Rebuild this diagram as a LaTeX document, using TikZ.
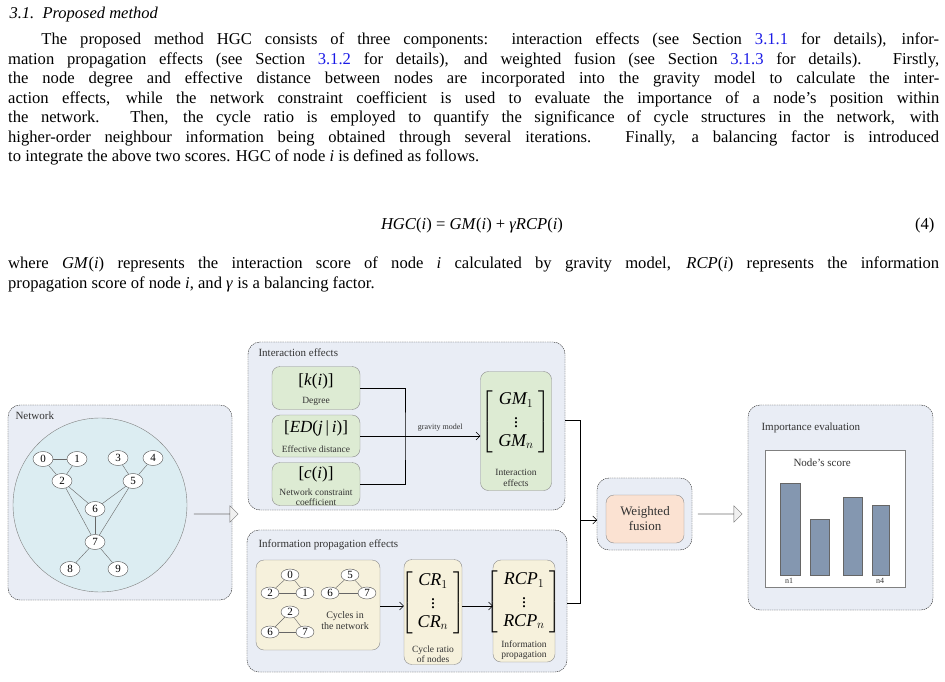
\documentclass[tikz,border=0pt]{standalone}
\usepackage{fontspec}
\setmainfont{Liberation Serif}
\usepackage{amsmath}
\usetikzlibrary{shapes.geometric,shapes.arrows,arrows.meta}
\definecolor{panel}{HTML}{E9EDF5}
\definecolor{netfill}{HTML}{DCEDF2}
\definecolor{grn}{HTML}{DDEBD3}
\definecolor{tan}{HTML}{F6F1DC}
\definecolor{peach}{HTML}{FBE2D2}
\definecolor{bar}{HTML}{8497B0}
\definecolor{lnk}{HTML}{1A1AE6}
\newcommand{\colvec}[2]{$\left[\begin{array}{c}\textit{#1}_{1}\\[1pt] \vdots\\[1pt] \textit{#1}_{#2}\end{array}\right]$}
\tikzset{
  panel/.style={draw=black!85,dash pattern=on 1.5pt off 0.8pt,fill=panel,rounded corners=12pt},
  vtx/.style={ellipse,draw=black!70,fill=white,inner sep=0.5pt,minimum width=20pt,minimum height=15pt,font=\fontsize{11}{11}\selectfont},
  ed/.style={draw=black!60},
  box/.style={draw=black!45,rounded corners=8pt},
  lbl/.style={anchor=west,font=\fontsize{11}{12}\selectfont,text=black!80},
  small/.style={font=\fontsize{9.5}{10.5}\selectfont,text=black!80,align=center},
  mat/.style={font=\fontsize{18}{18}\selectfont},
  fat/.style={single arrow,draw=black!55,fill=black!6,minimum height=44pt,minimum width=16pt,single arrow head extend=8pt,inner sep=0pt},
  bar/.style={draw=black!60,fill=bar}
}
\begin{document}
\begin{tikzpicture}[x=1pt,y=-1pt]
\useasboundingbox (0,0) rectangle (945,682);
		%Text
		\node[anchor=west,font=\fontsize{16.5}{19}\selectfont\itshape] (sec) at (6,15) {3.1.\ \ Proposed method};
		\node[anchor=north west,text width=931pt,align=justify,inner sep=0pt,font=\fontsize{16.6}{19.5}\selectfont] (par) at (8,33) {\hspace*{2em}The proposed method HGC consists of three components: interaction effects (see Section \textcolor{lnk}{3.1.1} for details), infor-\linebreak mation propagation effects (see Section \textcolor{lnk}{3.1.2} for details), and weighted fusion (see Section \textcolor{lnk}{3.1.3} for details). Firstly,\linebreak the node degree and effective distance between nodes are incorporated into the gravity model to calculate the inter-\linebreak action effects, while the network constraint coefficient is used to evaluate the importance of a node's position within\linebreak the network. Then, the cycle ratio is employed to quantify the significance of cycle structures in the network, with\linebreak higher-order neighbour information being obtained through several iterations. Finally, a balancing factor is introduced\linebreak to integrate the above two scores. HGC of node \textit{i} is defined as follows.\par};
		\node[font=\fontsize{16.6}{19}\selectfont] (eq) at (472,226) {\textit{HGC}(\textit{i}) = \textit{GM}(\textit{i}) + \textit{γRCP}(\textit{i})};
		\node[anchor=east,font=\fontsize{16.6}{19}\selectfont] (eqn) at (938,226) {(4)};
		\node[anchor=north west,text width=931pt,align=justify,inner sep=0pt,font=\fontsize{16.6}{19.5}\selectfont] (par2) at (8,257) {where \textit{GM}(\textit{i}) represents the interaction score of node \textit{i} calculated by gravity model, \textit{RCP}(\textit{i}) represents the information\linebreak propagation score of node \textit{i}, and \textit{γ} is a balancing factor.\par};
		%Network
		\draw[panel] (8,405) rectangle (232,600);
		\node[lbl] at (12,416) {Network};
		\draw[black!50,fill=netfill] (100,505) circle (87);
		\foreach \n/\x/\y in {0/43/459,1/77/459,3/118/458,4/153/458,2/62/481,5/133/481,6/95/509,7/95/542,8/70/569,9/118/569}
			\node[vtx] (v\n) at (\x,\y) {\n};
		\foreach \a/\b in {0/1,0/2,1/2,3/5,4/5,2/6,2/7,5/6,5/7,6/7,7/8,7/9}
			\draw[ed] (v\a) -- (v\b);
		\node[fat] (fa1) at (216,514) {};
		%Interaction effects
		\draw[panel] (248,342) rectangle (565,510);
		\node[lbl] at (255,353) {Interaction effects};
		\node[box,fill=grn,minimum width=88pt,minimum height=43pt] (deg) at (316,388) {};
		\node[font=\fontsize{17}{17}\selectfont] at (316,381) {[\textit{k}(\textit{i})]};
		\node[small] at (316,401) {Degree};
		\node[box,fill=grn,minimum width=88pt,minimum height=42pt] (ed) at (316,436) {};
		\node[font=\fontsize{17}{17}\selectfont] at (316,428) {[\textit{ED}(\textit{j}\,|\,\textit{i})]};
		\node[small] at (316,449) {Effective distance};
		\node[box,fill=grn,minimum width=88pt,minimum height=43pt] (cst) at (316,484) {};
		\node[font=\fontsize{17}{17}\selectfont] at (316,474) {[\textit{c}(\textit{i})]};
		\node[small] at (316,497) {Network constraint\\coefficient};
		\node[box,fill=grn,minimum width=71pt,minimum height=119pt] (gm) at (516,431) {};
		\node[mat] at (516,422) {\colvec{GM}{n}};
		\node[small] at (516,478) {Interaction\\effects};
		\coordinate (jn) at (405,436);
		\draw (deg.east) -| (jn) |- (cst.east);
		\draw[-{Straight Barb[length=4pt]}] (ed.east) -- (gm.west |- ed.east) node[midway,above=1pt,xshift=20pt,font=\fontsize{8}{8}\selectfont,text=black!80] {gravity model};
		%Information propagation effects
		\draw[panel] (247,530) rectangle (567,672);
		\node[lbl] at (255,545) {Information propagation effects};
		\node[box,fill=tan,minimum width=124pt,minimum height=90pt] (cyc) at (318,605) {};
		\foreach \n/\t/\x/\y in {a/0/290/575,b/2/270/593,c/1/305/593,d/5/350/575,e/6/330/593,f/7/367/593,g/2/290/612,h/6/270/632,i/7/305/632}
			\node[vtx,minimum width=18pt,minimum height=12pt] (c\n) at (\x,\y) {\t};
		\foreach \a/\b in {a/b,a/c,b/c,d/e,d/f,e/f,g/h,g/i,h/i}
			\draw[ed] (c\a) -- (c\b);
		\node[small,font=\fontsize{10}{11}\selectfont] at (345,621) {Cycles in\\the network};
		\node[box,fill=tan,minimum width=58pt,minimum height=105pt] (cr) at (433,612) {};
		\node[mat] at (433,603) {\colvec{CR}{n}};
		\node[small] at (433,654) {Cycle ratio\\of nodes};
		\node[box,fill=tan,minimum width=62pt,minimum height=102pt] (rcp) at (524,611) {};
		\node[mat] at (524,602) {\colvec{RCP}{n}};
		\node[small] at (524,650) {Information\\propagation};
		\draw[-{Straight Barb[length=4pt]}] (cyc.east |- 0,606) -- (cr.west |- 0,606);
		\draw[-{Straight Barb[length=4pt]}] (cr.east |- 0,606) -- (rcp.west |- 0,606);
		%Weighted fusion
		\draw[panel] (597,478) rectangle (692,550);
		\node[box,fill=peach,minimum width=78pt,minimum height=48pt,align=center,font=\fontsize{13}{15}\selectfont,text=black!80] (wf) at (645,519) {Weighted\\fusion};
		\coordinate (ja) at (580,420);
		\coordinate (jb) at (580,603);
		\draw (565,420) -- (ja) -- (jb) -- (567,603);
		\draw[-{Straight Barb[length=4pt]}] (580,520) -- (597,520);
		\node[fat] (fa2) at (720,514) {};
		%Importance evaluation
		\draw[panel] (748,405) rectangle (933,610);
		\node[lbl] at (758,428) {Importance evaluation};
		\draw[black!50,fill=white] (765,450) rectangle (905,587);
		\node[lbl] at (790,463) {Node's score};
		\draw[bar] (780,483) rectangle (800,575);
		\draw[bar] (810,519) rectangle (829,575);
		\draw[bar] (843,497) rectangle (862,575);
		\draw[bar] (872,505) rectangle (889,575);
		\node[small,font=\fontsize{8}{8}\selectfont] at (789,581) {n1};
		\node[small,font=\fontsize{8}{8}\selectfont] at (880,581) {n4};
\end{tikzpicture}
\end{document}
